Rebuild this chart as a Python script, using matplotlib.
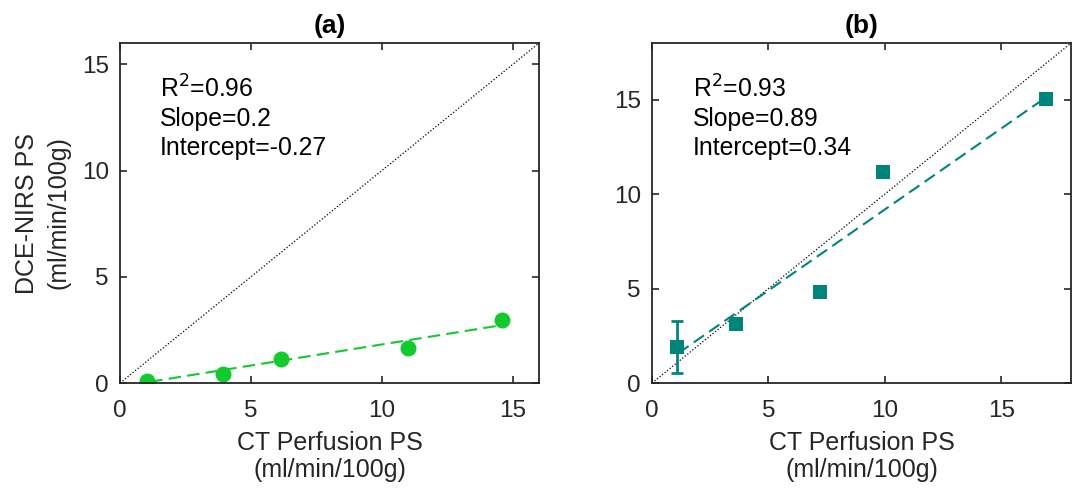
import matplotlib
matplotlib.use("Agg")
import matplotlib.pyplot as plt

plt.rcParams["font.family"] = ["Liberation Sans", "DejaVu Sans"]

# panel (a) data
ct_a = [1.02, 3.92, 6.13, 10.98, 14.6]
nirs_a = [0.1, 0.42, 1.11, 1.66, 2.96]
fit_a_x = [1.15, 14.56]
fit_a_y = [0.06, 2.72]
stats_a = ["0.96", "0.2", "-0.27"]

# panel (b) data
ct_b = [1.06, 3.59, 7.23, 9.91, 16.94]
nirs_b = [1.89, 3.14, 4.84, 11.15, 15.06]
err_b = [1.37, 0, 0, 0, 0]
fit_b_x = [1.13, 16.85]
fit_b_y = [1.58, 15.06]
stats_b = ["0.93", "0.89", "0.34"]

green = "#12c92e"
teal = "#00857c"
dark = "#262626"
tick_fs = 17.5
label_fs = 18
note_fs = 17.8

fig = plt.figure(figsize=(10.8, 4.92), dpi=100)
ax_a = fig.add_axes([0.1111, 0.2215, 0.388, 0.691])
ax_b = fig.add_axes([0.6037, 0.2215, 0.388, 0.691])


def style(ax, lim, title):
    ax.plot([0, lim], [0, lim], linestyle=(0, (1, 1.6)), color="black", linewidth=0.9)
    ax.set_xlim(0, lim)
    ax.set_ylim(0, lim)
    ax.set_xticks([0, 5, 10, 15])
    ax.set_yticks([0, 5, 10, 15])
    ax.tick_params(direction="in", length=5, width=1.2, top=True, right=True,
                   labelsize=tick_fs, colors=dark, labelcolor=dark)
    ax.tick_params(axis="x", pad=12)
    ax.tick_params(axis="y", pad=8)
    for sp in ax.spines.values():
        sp.set_linewidth(1.3)
        sp.set_color(dark)
    ax.set_title(title, fontsize=19, fontweight="bold", pad=7)
    ax.set_xlabel("CT Perfusion PS\n(ml/min/100g)", fontsize=label_fs, color=dark,
                  labelpad=7, linespacing=1.15)


style(ax_a, 16, "(a)")
ax_a.plot(fit_a_x, fit_a_y, linestyle=(0, (6, 3)), color=green, linewidth=1.5)
ax_a.plot(ct_a, nirs_a, "o", color=green, markersize=11.5, markeredgewidth=0)
ax_a.set_ylabel("DCE-NIRS PS\n(ml/min/100g)", fontsize=label_fs, color=dark,
                labelpad=8, linespacing=1.4)
ax_a.text(0.095, 0.905, "R$^2$=%s\nSlope=%s\nIntercept=%s" % tuple(stats_a),
          transform=ax_a.transAxes, va="top", ha="left", fontsize=note_fs,
          linespacing=1.25)

style(ax_b, 18, "(b)")
ax_b.plot(fit_b_x, fit_b_y, linestyle=(0, (6, 3)), color=teal, linewidth=1.5)
ax_b.errorbar(ct_b[:1], nirs_b[:1], yerr=err_b[:1], fmt="none", ecolor=teal,
              elinewidth=2, capsize=4.5, capthick=2)
ax_b.plot(ct_b, nirs_b, "s", color=teal, markersize=10, markeredgewidth=0)
ax_b.text(0.098, 0.905, "R$^2$=%s\nSlope=%s\nIntercept=%s" % tuple(stats_b),
          transform=ax_b.transAxes, va="top", ha="left", fontsize=note_fs,
          linespacing=1.25)

fig.savefig("out.png", dpi=100)
